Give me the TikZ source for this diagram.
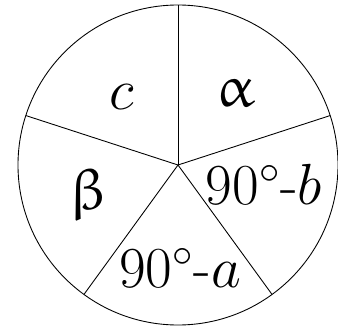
\RequirePackage{fix-cm}
\documentclass[tikz,border=0pt]{standalone}
\usepackage{amsmath}
\usepackage{upgreek}
\usepackage{tikz}
\usetikzlibrary{positioning,calc}

\begin{document}
\begin{tikzpicture}[line width=0.5pt]

        \tikzstyle{label} = [inner sep=0pt, font=\fontsize{33}{38}\selectfont]

        \useasboundingbox (-3.56,-3.28) rectangle (3.2,3.3);

        \coordinate (O) at (0,0);
        \draw (O) circle (3.2);

        \foreach \ang [count=\i] in {90,18,-54,-126,162}
            \coordinate (p\i) at (\ang:3.2);
        \foreach \i in {1,...,5}
            \draw (O) -- (p\i);

        \node [label] (c) at (-1.12,1.36) {$c$};
        \node [label] (alpha) at (1.16,1.44) {$\upalpha$};
        \node [label] (beta) at (-1.78,-0.6) {$\upbeta$};
        \node [label] (b) at (1.72,-0.4) {90$^\circ$-$b$};
        \node [label] (a) at (0.04,-2.06) {90$^\circ$-$a$};

\end{tikzpicture}
\end{document}
